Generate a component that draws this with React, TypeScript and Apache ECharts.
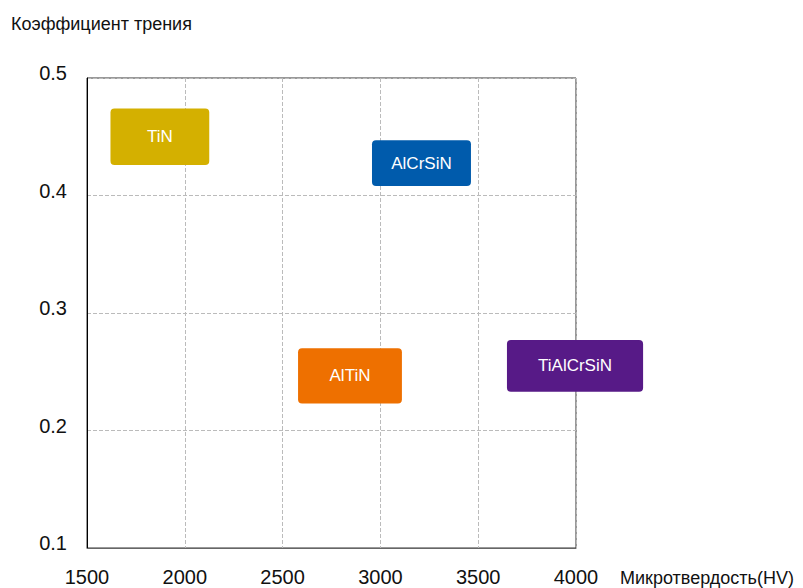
import React, { useEffect, useRef } from "react";
import * as echarts from "echarts";

const coatings = ["TiN", "AlCrSiN", "AlTiN", "TiAlCrSiN"];
const hardnessFrom = [1620, 2957, 2579, 3647];
const hardnessTo = [2125, 3463, 3110, 4343];
const frictionFrom = [0.426, 0.408, 0.223, 0.233];
const frictionTo = [0.474, 0.447, 0.27, 0.277];
const colors = ["#D4B000", "#005BAC", "#EE7000", "#571A87"];

const xTicks = { min: 1500, max: 4000, interval: 500 };
const yTicks = { min: 0.1, max: 0.5, interval: 0.1 };

export default function App() {
  const ref = useRef<HTMLDivElement>(null);
  useEffect(() => {
    if (!ref.current) return;
    const chart = echarts.init(ref.current, null, { renderer: "svg" });
    const data = coatings.map((name, i) => ({
      name,
      value: [hardnessFrom[i], hardnessTo[i], frictionFrom[i], frictionTo[i]],
      itemStyle: { color: colors[i] },
    }));
    const font = "Liberation Sans, Arial, sans-serif";
    chart.setOption({
      animation: false,
      title: {
        text: "Коэффициент трения",
        left: 6,
        top: 10,
        textStyle: { fontSize: 18, fontWeight: "normal", color: "#111", fontFamily: font },
      },
      grid: {
        left: 87,
        right: 227,
        top: 78,
        bottom: 40,
        show: true,
        borderColor: "#333",
        borderWidth: 1,
      },
      xAxis: {
        type: "value",
        min: xTicks.min,
        max: xTicks.max,
        interval: xTicks.interval,
        name: "Микротвердость(HV)",
        nameLocation: "end",
        nameGap: 44,
        nameTextStyle: {
          fontSize: 18,
          color: "#111",
          fontFamily: font,
          verticalAlign: "top",
          padding: [21, 0, 0, 0],
        },
        axisLine: { show: true, lineStyle: { color: "#666", width: 1 } },
        axisTick: { show: false },
        axisLabel: {
          fontSize: 20,
          color: "#111",
          margin: 19,
          fontFamily: font,
          formatter: (v: number) => String(v),
        },
        splitLine: { show: true, lineStyle: { type: "dashed", color: "#bbb" } },
      },
      yAxis: {
        type: "value",
        min: yTicks.min,
        max: yTicks.max,
        interval: yTicks.interval,
        axisLine: { show: true, lineStyle: { color: "#000", width: 1 } },
        axisTick: { show: false },
        axisLabel: {
          fontSize: 20,
          color: "#111",
          margin: 20,
          fontFamily: font,
          verticalAlign: "bottom",
          lineHeight: 10,
          formatter: (v: number) => v.toFixed(1),
        },
        splitLine: { show: true, lineStyle: { type: "dashed", color: "#bbb" } },
      },
      series: [
        {
          type: "custom",
          clip: false,
          data,
          encode: { x: [0, 1], y: [2, 3] },
          renderItem: (params: any, api: any) => {
            const p0 = api.coord([api.value(0), api.value(3)]);
            const p1 = api.coord([api.value(1), api.value(2)]);
            const name = coatings[params.dataIndex];
            return {
              type: "group",
              children: [
                {
                  type: "rect",
                  shape: { x: p0[0], y: p0[1], width: p1[0] - p0[0], height: p1[1] - p0[1], r: 4 },
                  style: { fill: api.visual("color") },
                },
                {
                  type: "text",
                  x: (p0[0] + p1[0]) / 2,
                  y: (p0[1] + p1[1]) / 2,
                  style: {
                    text: name,
                    fill: "#fff",
                    fontSize: 17,
                    fontFamily: font,
                    align: "center",
                    verticalAlign: "middle",
                  },
                },
              ],
            };
          },
        },
      ],
    });
    return () => chart.dispose();
  }, []);
  return <div ref={ref} style={{ width: 803, height: 588, position: "absolute", left: 0, top: 0 }} />;
}
